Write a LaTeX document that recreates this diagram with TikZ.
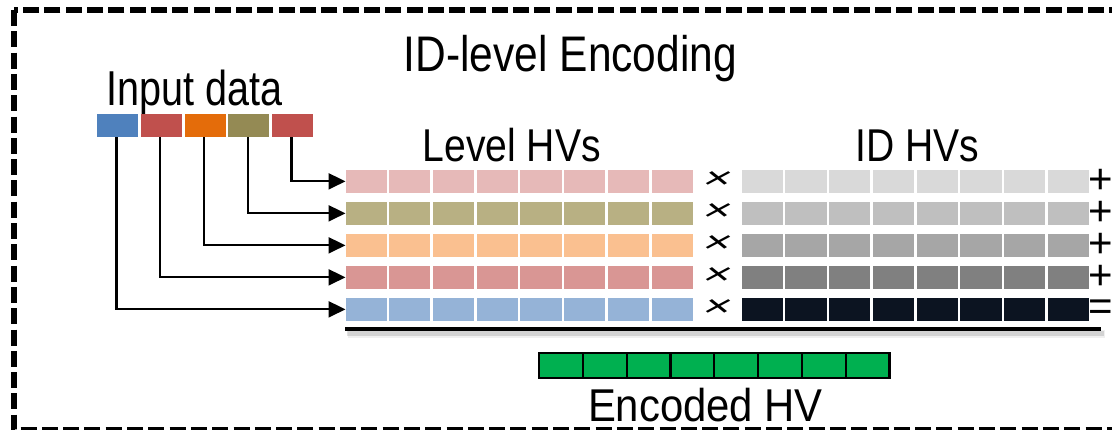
\documentclass[tikz,border=0pt]{standalone}
\usepackage{fontspec}
\setmainfont{Liberation Sans}[FakeStretch=0.85]
\newfontfamily\opfont{Liberation Sans}
\usetikzlibrary{arrows.meta}

\definecolor{inBlue}{HTML}{4F81BD}
\definecolor{inRed}{HTML}{C0504D}
\definecolor{inOrange}{HTML}{E46C0A}
\definecolor{inOlive}{HTML}{948A54}
\definecolor{lvA}{HTML}{E6B9B8}
\definecolor{lvB}{HTML}{B8B083}
\definecolor{lvC}{HTML}{FAC090}
\definecolor{lvD}{HTML}{D99694}
\definecolor{lvE}{HTML}{95B3D7}
\definecolor{idA}{HTML}{D9D9D9}
\definecolor{idB}{HTML}{BFBFBF}
\definecolor{idC}{HTML}{A6A6A6}
\definecolor{idD}{HTML}{808080}
\definecolor{idE}{HTML}{0C1421}
\definecolor{encGreen}{HTML}{00B050}

\begin{document}
\begin{tikzpicture}[x=1pt,y=-1pt,
  hvcell/.style={minimum width=41.2pt, minimum height=22.7pt, inner sep=0pt, outer sep=0pt, anchor=north west},
  incell/.style={minimum width=41pt, minimum height=23pt, inner sep=0pt, outer sep=0pt, anchor=north west},
  enccell/.style={draw=black, line width=2.2pt, fill=encGreen, minimum width=43.8pt, minimum height=25.4pt, inner sep=0pt, outer sep=0pt},
  feed/.style={line width=2.2pt, -{Triangle[length=17pt,width=16pt]}},
  hvlabel/.style={anchor=base, inner sep=0pt, text depth=0pt, font=\fontsize{46}{46}\selectfont},
  op/.style={anchor=center, inner sep=0pt, text height=20pt, text depth=0pt, font=\opfont\fontsize{42}{42}\selectfont},
  mul/.style={anchor=center, inner sep=0pt, text height=16pt, text depth=0pt, xscale=1.25, yscale=0.8, xslant=0.2, font=\opfont\fontsize{38}{38}\selectfont},
  dashframe/.style={line width=5.5pt, dash pattern=on 16pt off 5.3pt}
]
\useasboundingbox (0,0) rectangle (1112,429);

% dashed outer frame
\begin{scope}
  \clip (0,0) rectangle (1112,429);
  \draw[dashframe] (14,10) rectangle (1130,429.5);
\end{scope}

% titles
\node[anchor=base, inner sep=0pt, font=\fontsize{50}{50}\selectfont] (title) at (570.4,71) {ID-level Encoding};
\node[anchor=base, inner sep=0pt, xscale=0.95, font=\fontsize{49}{49}\selectfont] (inlab) at (194.5,105) {Input data};
\node[hvlabel] (lvlab) at (511.7,161.7) {Level HVs};
\node[hvlabel] (idlab) at (917.5,161.7) {ID HVs};
\node[hvlabel, xscale=1.07] (enclab) at (705.5,421.7) {Encoded HV};

% input data values
\foreach \i/\col in {1/inBlue,2/inRed,3/inOrange,4/inOlive,5/inRed}
  \node[incell, fill=\col] (in\i) at ({97+(\i-1)*43.75},114) {};

% level and ID hypervectors
\foreach \r/\lc/\ic in {1/lvA/idA,2/lvB/idB,3/lvC/idC,4/lvD/idD,5/lvE/idE}{
  \foreach \c in {1,...,8}{
    \node[hvcell, fill=\lc] (L\r-\c) at ({345.5+(\c-1)*43.72},{170+(\r-1)*32}) {};
    \node[hvcell, fill=\ic] (I\r-\c) at ({741.7+(\c-1)*43.72},{170+(\r-1)*32}) {};
  }
  \node[mul] (x\r) at (717,{182.5+(\r-1)*32}) {×};
}

% accumulation signs
\foreach \r in {1,...,4}
  \node[op] (p\r) at (1101,{183.3+(\r-1)*32}) {+};
\node[op] (eq) at (1101,310) {=};

% feeds from input values to level rows
\draw[feed] ([xshift=-1pt]in5.south) |- (L1-1.west);
\draw[feed] ([xshift=-1pt]in4.south) |- (L2-1.west);
\draw[feed] ([xshift=-1pt]in3.south) |- (L3-1.west);
\draw[feed] ([xshift=-1pt]in2.south) |- (L4-1.west);
\draw[feed] ([xshift=-1pt]in1.south) |- (L5-1.west);

% summation bar with soft shadow
\coordinate (barL) at (345,329);
\coordinate (barR) at (1101,329);
\draw[line width=8pt, black, opacity=0.06] ([shift={(3,5)}]barL) -- ([shift={(4,5)}]barR);
\draw[line width=5pt, black, opacity=0.12] ([shift={(2,4)}]barL) -- ([shift={(3,4)}]barR);
\draw[line width=4.8pt, black] (barL) -- (barR);

% encoded hypervector
\foreach \c in {1,...,8}
  \node[enccell] (E\c) at ({539.1+21.9+(\c-1)*43.8},365.5) {};
\end{tikzpicture}
\end{document}
